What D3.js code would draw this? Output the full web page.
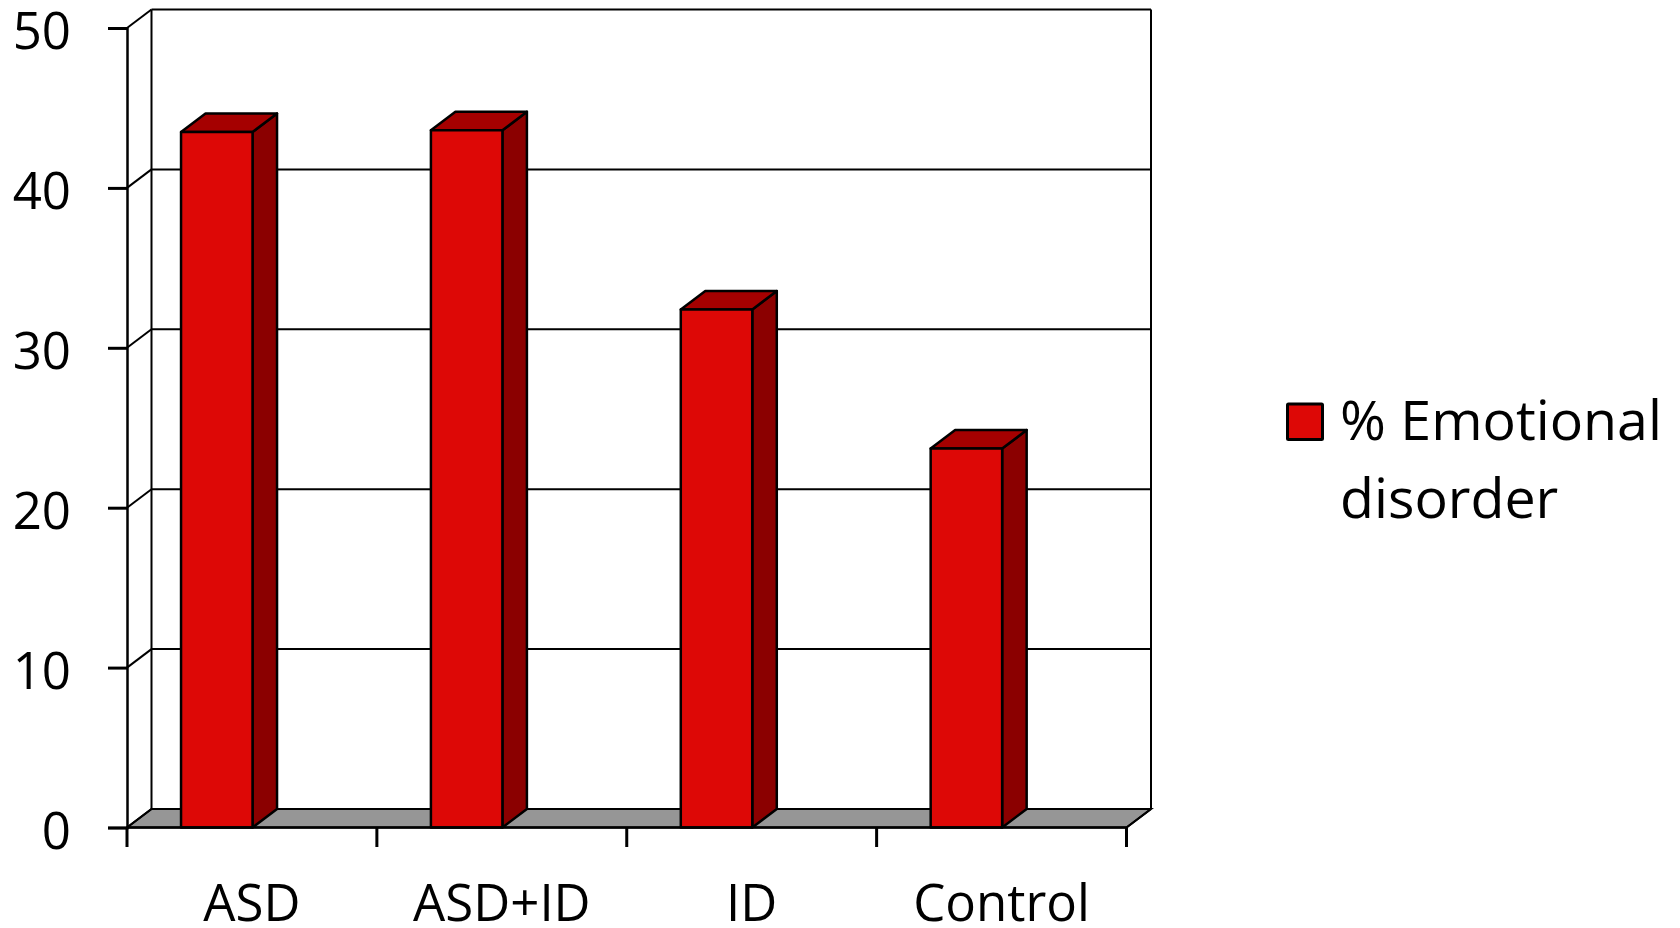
<!DOCTYPE html>
<html><head><meta charset="utf-8">
<script src="https://cdnjs.cloudflare.com/ajax/libs/d3/7.8.5/d3.min.js"></script>
<style>html,body{margin:0;padding:0;background:#fff}svg{display:block}text{font-family:"Open Sans",sans-serif;fill:#000}</style>
</head><body><svg id="c" width="1680" height="928"></svg>
<script>
const categories = ["ASD", "ASD+ID", "ID", "Control"];
const values = [43.5, 43.6, 32.4, 23.7];
const yTicks = [0, 10, 20, 30, 40, 50];
const legendLines = ["% Emotional", "disorder"];

const svg = d3.select("#c");
const X0 = 127, X1 = 1126.5, Y0 = 827.5, Y1 = 28, DX = 24.5, DY = -18.5;
const x = d3.scaleBand().domain(categories).range([X0, X1]);
const y = d3.scaleLinear().domain([0, 50]).range([Y0, Y1]);
const barW = 71.5;
const FS = 51, LFS = 55.5;
const colors = {front:"#DD0806", top:"#A50000", side:"#8B0000", floor:"#969696"};
const line = (a,b,c,d,w=2)=>svg.append("line").attr("x1",a).attr("y1",b).attr("x2",c).attr("y2",d).attr("stroke","#000").attr("stroke-width",w);
const poly = (pts,f,w=2)=>svg.append("polygon").attr("points",pts.map(p=>p.join(",")).join(" ")).attr("fill",f).attr("stroke","#000").attr("stroke-width",w).attr("stroke-linejoin","miter");

poly([[X0,Y0],[X0+DX,Y0+DY],[X1+DX,Y0+DY],[X1,Y0]],colors.floor);
yTicks.forEach(t=>{
  line(X0,y(t),X0+DX,y(t)+DY);
  line(X0+DX,y(t)+DY,X1+DX,y(t)+DY);
});
line(X0+DX,Y0+DY,X0+DX,Y1+DY);
line(X1+DX,Y0+DY,X1+DX,Y1+DY);
line(X1,Y0,X1+DX,Y0+DY);

const g = svg.append("g").selectAll("g").data(categories.map((c,i)=>({c,v:values[i]}))).join("g");
g.each(function(d){
  const s = d3.select(this);
  const xr = x(d.c)+x.bandwidth()/2+0.6, xl = xr-barW, yt = y(d.v);
  const P=(pts,f)=>s.append("polygon").attr("points",pts.map(p=>p.join(",")).join(" ")).attr("fill",f).attr("stroke","#000").attr("stroke-width",2.5).attr("stroke-linejoin","round");
  P([[xr,Y0],[xr+DX,Y0+DY],[xr+DX,yt+DY],[xr,yt]],colors.side);
  P([[xl,yt],[xl+DX,yt+DY],[xr+DX,yt+DY],[xr,yt]],colors.top);
  P([[xl,Y0],[xl,yt],[xr,yt],[xr,Y0]],colors.front);
});

const ay = d3.axisLeft(y).tickValues(yTicks).tickSize(19).tickPadding(0);
const gy = svg.append("g").attr("transform",`translate(${X0},0)`).call(ay);
gy.select(".domain").attr("stroke","#000").attr("stroke-width",2.5);
gy.selectAll(".tick line").attr("stroke","#000").attr("stroke-width",3);
gy.selectAll(".tick text").attr("x",-56).attr("dy",null).attr("y",20.5).attr("text-anchor","end").style("font-size",FS+"px").style("font-family",'"Open Sans",sans-serif').attr("fill","#000");

const ax = d3.axisBottom(x).tickSize(0).tickPadding(0);
const gx = svg.append("g").attr("transform",`translate(0,${Y0})`).call(ax);
gx.select(".domain").attr("d",`M${X0},0H${X1}`).attr("stroke","#000").attr("stroke-width",2.5);
gx.selectAll(".tick text").attr("y",93.5).attr("dy",null).style("font-size",FS+"px").style("font-family",'"Open Sans",sans-serif').attr("fill","#000");
d3.range(categories.length+1).forEach(i=>{
  const px = i<categories.length ? x(categories[i]) : X1;
  line(px,Y0,px,847,3);
});

svg.append("rect").attr("x",1287.5).attr("y",404).attr("width",35).attr("height",35.5).attr("rx",1).attr("fill",colors.front).attr("stroke","#000").attr("stroke-width",3);
svg.append("g").selectAll("text").data(legendLines).join("text")
  .attr("x",1340).attr("y",(d,i)=>440+i*78).style("font-size",LFS+"px").text(d=>d);
</script></body></html>
